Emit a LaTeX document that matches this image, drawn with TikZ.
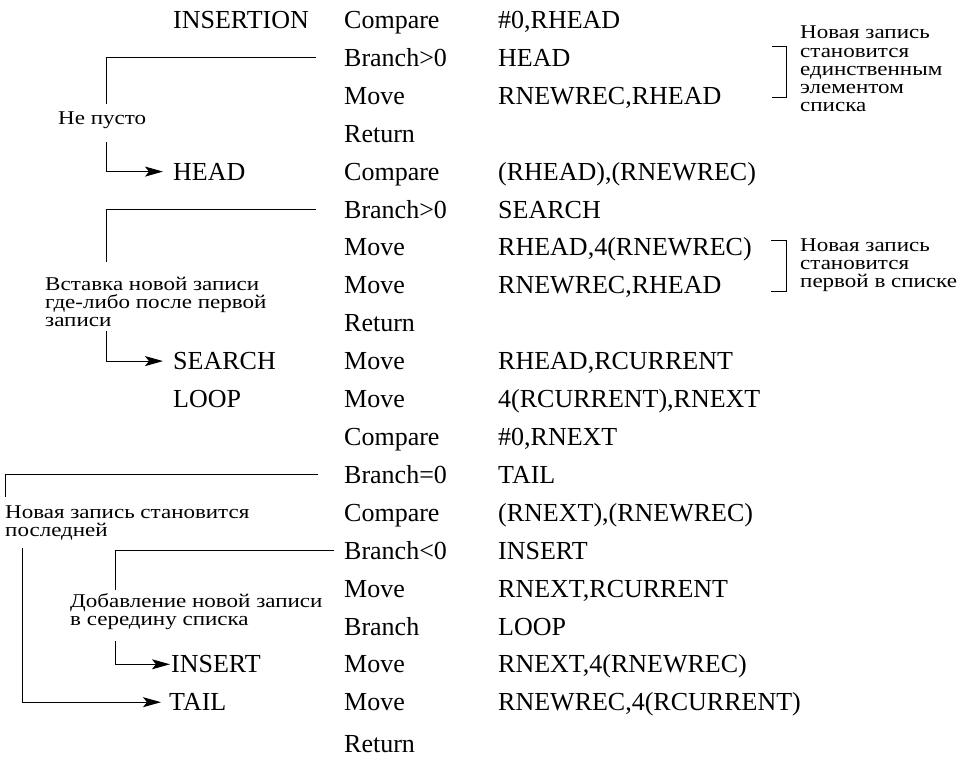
\documentclass[tikz,border=0pt]{standalone}
\usepackage{fontspec}
\setmainfont{Liberation Serif}
\newfontfamily\notefamily[FakeStretch=1.18]{Liberation Serif}
\usetikzlibrary{arrows.meta}
\newcommand\codesize{\fontsize{26}{30}\selectfont}
\newcommand\notesize{\notefamily\fontsize{19.5}{18.2}\selectfont}
\tikzset{
  code/.style={font=\codesize, inner sep=0pt, anchor=west, text height=17.2pt, text depth=0pt},
  % multi-line remarks are placed by the baseline of their last line
  note/.style={font=\notesize, inner sep=0pt, anchor=base west, align=left},
  link/.style={line width=1pt},
  arr/.style={link, -{Stealth[length=18pt,width=10pt,inset=4pt]}},
}
\begin{document}
\begin{tikzpicture}[x=1pt,y=-1pt]
\useasboundingbox (0,0) rectangle (966,759);
% column positions
\def\xl{173}\def\xo{344}\def\xa{498}
% labels
\node[code] (insertion) at (\xl,20) {INSERTION};
\node[code] (head)   at (\xl,171.6) {HEAD};
\node[code] (search) at (\xl,361.1) {SEARCH};
\node[code] (loop)   at (\xl,399) {LOOP};
\node[code] (insert) at (171,664.3) {INSERT};
\node[code] (tail)   at (169,702.2) {TAIL};
% opcodes
\node[code] (o0)  at (\xo,20)    {Compare};
\node[code] (o1)  at (\xo,57.9)  {Branch>0};
\node[code] (o2)  at (\xo,95.8)  {Move};
\node[code] (o3)  at (\xo,133.7) {Return};
\node[code] (o4)  at (\xo,171.6) {Compare};
\node[code] (o5)  at (\xo,209.5) {Branch>0};
\node[code] (o6)  at (\xo,247.4) {Move};
\node[code] (o7)  at (\xo,285.3) {Move};
\node[code] (o8)  at (\xo,323.2) {Return};
\node[code] (o9)  at (\xo,361.1) {Move};
\node[code] (o10) at (\xo,399)   {Move};
\node[code] (o11) at (\xo,436.9) {Compare};
\node[code] (o12) at (\xo,474.8) {Branch=0};
\node[code] (o13) at (\xo,512.7) {Compare};
\node[code] (o14) at (\xo,550.6) {Branch<0};
\node[code] (o15) at (\xo,588.5) {Move};
\node[code] (o16) at (\xo,626.4) {Branch};
\node[code] (o17) at (\xo,664.3) {Move};
\node[code] (o18) at (\xo,702.2) {Move};
\node[code] (o19) at (\xo,744)   {Return};
% operands
\node[code] (a0)  at (\xa,20)    {\#0,RHEAD};
\node[code] (a1)  at (\xa,57.9)  {HEAD};
\node[code] (a2)  at (\xa,95.8)  {RNEWREC,RHEAD};
\node[code] (a4)  at (\xa,171.6) {(RHEAD),(RNEWREC)};
\node[code] (a5)  at (\xa,209.5) {SEARCH};
\node[code] (a6)  at (\xa,247.4) {RHEAD,4(RNEWREC)};
\node[code] (a7)  at (\xa,285.3) {RNEWREC,RHEAD};
\node[code] (a9)  at (\xa,361.1) {RHEAD,RCURRENT};
\node[code] (a10) at (\xa,399)   {4(RCURRENT),RNEXT};
\node[code] (a11) at (\xa,436.9) {\#0,RNEXT};
\node[code] (a12) at (\xa,474.8) {TAIL};
\node[code] (a13) at (\xa,512.7) {(RNEXT),(RNEWREC)};
\node[code] (a14) at (\xa,550.6) {INSERT};
\node[code] (a15) at (\xa,588.5) {RNEXT,RCURRENT};
\node[code] (a16) at (\xa,626.4) {LOOP};
\node[code] (a17) at (\xa,664.3) {RNEXT,4(RNEWREC)};
\node[code] (a18) at (\xa,702.2) {RNEWREC,4(RCURRENT)};
% remarks on the right, with brackets
\node[note] (r1) at (800,111.8) {Новая запись\\становится\\единственным\\элементом\\списка};
\node[note] (r2) at (800,287.4) {Новая запись\\становится\\первой в списке};
\draw[link] (772,47) -- (786,47) -- (786,98) -- (772,98);
\draw[link] (771,241) -- (786,241) -- (786,291) -- (771,291);
% remarks on the branches
\node[note] (c1) at (58,125)    {Не пусто};
\node[note] (c2) at (45,326.4)  {Вставка новой записи\\где-либо после первой\\записи};
\node[note] (c3) at (5,536.2)   {Новая запись становится\\последней};
\node[note] (c4) at (70,625.2)  {Добавление новой записи\\в середину списка};
% bend points of the branch lines
\coordinate (k1a) at (106,104);  \coordinate (k1b) at (106,142);
\coordinate (k2a) at (106,262);  \coordinate (k2b) at (106,331);
\coordinate (k3a) at (5,497);    \coordinate (k3b) at (22,548);
\coordinate (k4a) at (115,590);  \coordinate (k4b) at (115,641);
% branch lines
\draw[link, shorten <=28pt] (o1.west) -| (k1a);
\draw[arr, shorten >=10pt] (k1b) |- (head.west);
\draw[link, shorten <=28pt] (o5.west) -| (k2a);
\draw[arr, shorten >=10pt] (k2b) |- (search.west);
\draw[link, shorten <=26pt] (o12.west) -| (k3a);
\draw[arr, shorten >=8pt] (k3b) |- (tail.west);
\draw[link, shorten <=10pt] (o14.west) -| (k4a);
\draw[arr, shorten >=1pt] (k4b) |- (insert.west);
\end{tikzpicture}
\end{document}
